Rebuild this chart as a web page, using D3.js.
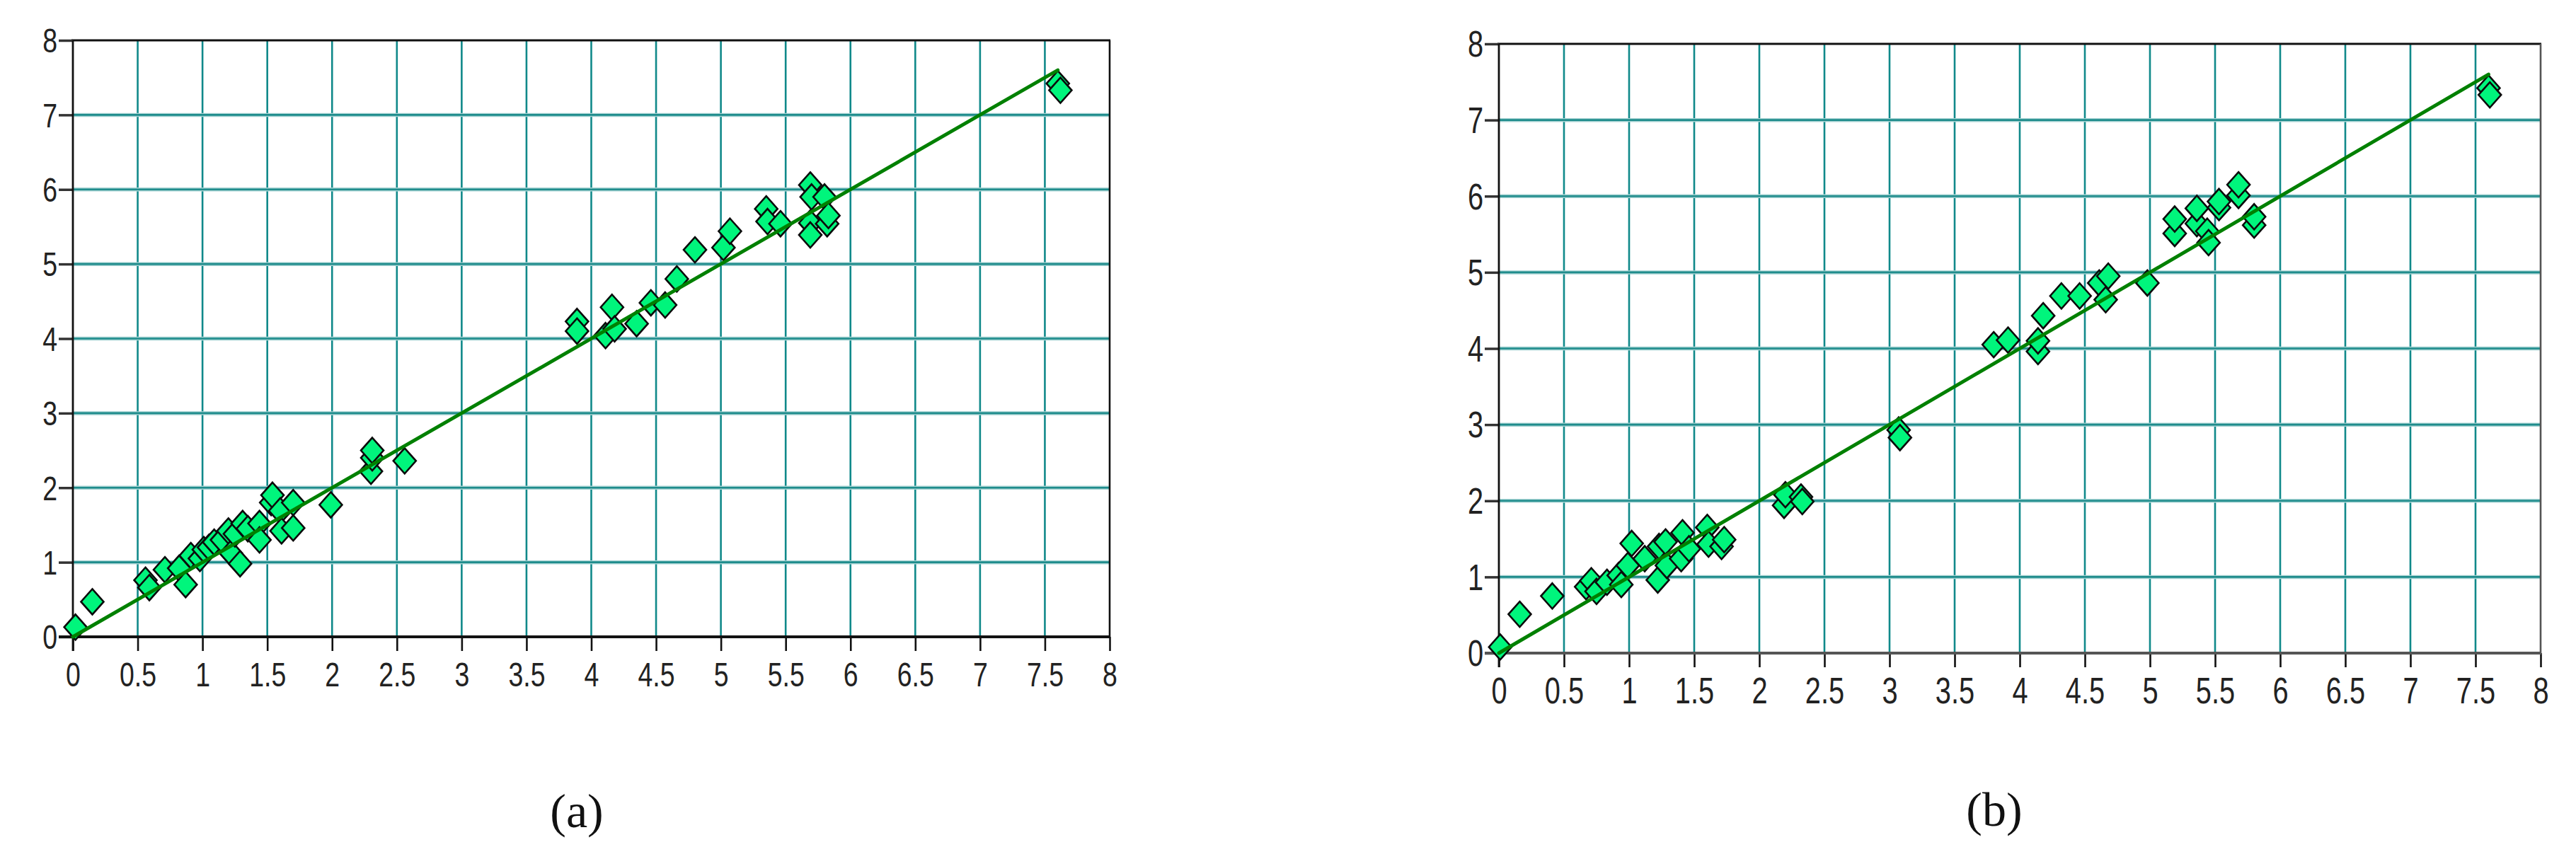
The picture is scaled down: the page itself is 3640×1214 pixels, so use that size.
<!DOCTYPE html>
<html>
<head>
<meta charset="utf-8">
<script src="https://cdn.jsdelivr.net/npm/d3@7"></script>
<style>
  html, body { margin: 0; padding: 0; background: #fff; }
  svg { display: block; }
  .tick text { font-family: "Liberation Sans", Arial, sans-serif; fill: #222; }
</style>
</head>
<body>
<div id="chart"></div>
<script>
const W = 3640, H = 1214;

// axis ticks
const xTicks = d3.range(0, 8.001, 0.5);
const yTicks = d3.range(0, 9, 1);

// panel (a): observed (x) vs predicted (y)
const obsA  = [0.02,0.15,0.56,0.59,0.71,0.82,0.87,0.91,0.98,1.01,1.05,1.09,1.15,1.20,1.22,1.25,1.29,1.31,1.35,1.44,1.44,1.53,1.54,1.60,1.61,1.70,1.70,1.99,2.30,2.31,2.31,2.56,
               3.89,3.89,4.11,4.16,4.18,4.35,4.46,4.57,4.66,4.80,5.02,5.07,5.35,5.36,5.46,5.69,5.70,5.69,5.69,5.80,5.82,5.83,7.60,7.62];
const predA = [0.13,0.47,0.76,0.66,0.90,0.92,0.70,1.09,1.05,1.17,1.20,1.27,1.30,1.42,1.12,1.38,0.98,1.52,1.45,1.52,1.30,1.80,1.90,1.69,1.42,1.80,1.46,1.77,2.22,2.40,2.50,2.36,
               4.23,4.10,4.04,4.42,4.13,4.20,4.48,4.45,4.80,5.19,5.22,5.44,5.74,5.57,5.54,6.06,5.90,5.55,5.39,5.90,5.54,5.65,7.42,7.33];

// panel (b)
const obsB  = [0.01,0.16,0.41,0.67,0.71,0.75,0.83,0.92,0.94,0.99,1.02,1.12,1.22,1.23,1.28,1.29,1.40,1.41,1.46,1.60,1.61,1.71,1.73,2.19,2.20,2.32,2.33,3.07,3.08,
               3.80,3.91,4.14,4.14,4.18,4.32,4.46,4.61,4.66,4.68,4.98,5.19,5.19,5.36,5.36,5.44,5.45,5.53,5.53,5.68,5.68,5.80,5.80,7.60,7.61];
const predB = [0.08,0.51,0.75,0.87,0.95,0.81,0.93,1.02,0.90,1.15,1.44,1.24,0.96,1.40,1.46,1.15,1.24,1.58,1.37,1.65,1.43,1.40,1.49,1.94,2.08,2.05,1.99,2.93,2.83,
               4.05,4.11,3.96,4.10,4.43,4.69,4.69,4.86,4.64,4.95,4.86,5.51,5.70,5.64,5.84,5.54,5.39,5.85,5.93,6.01,6.15,5.62,5.73,7.42,7.33];

// fitted line ends (y = x)
const fitA = [0, 7.6];
const fitB = [0, 7.6];

const svg = d3.select("#chart").append("svg")
  .attr("width", W).attr("height", H)
  .style("background", "#fff");

function drawPanel(opts) {
  const x = d3.scaleLinear().domain([0, 8]).range([opts.left, opts.right]);
  const y = d3.scaleLinear().domain([0, 8]).range([opts.bottom, opts.top]);
  const g = svg.append("g");
  const fs = opts.fontSize, sx = 0.78;

  // vertical grid
  g.selectAll(".vg").data(xTicks.slice(1, -1)).enter().append("line")
    .attr("x1", d => x(d)).attr("x2", d => x(d))
    .attr("y1", opts.top).attr("y2", opts.bottom)
    .style("stroke", "#10898a").style("stroke-width", 2.6);

  // horizontal grid: light halo + darker core
  const hg = yTicks.slice(1, -1);
  g.selectAll(".hgh").data(hg).enter().append("line")
    .attr("x1", opts.left).attr("x2", opts.right)
    .attr("y1", d => y(d)).attr("y2", d => y(d))
    .style("stroke", "#a3d1d1").style("stroke-width", 5.5);
  g.selectAll(".hgc").data(hg).enter().append("line")
    .attr("x1", opts.left).attr("x2", opts.right)
    .attr("y1", d => y(d)).attr("y2", d => y(d))
    .style("stroke", "#1f8c8c").style("stroke-width", 2.6);

  // frame
  g.append("line").attr("x1", opts.left - 2).attr("x2", opts.right + 1)
    .attr("y1", opts.top).attr("y2", opts.top)
    .style("stroke", "#111").style("stroke-width", 3.2);
  g.append("line").attr("x1", opts.right).attr("x2", opts.right)
    .attr("y1", opts.top).attr("y2", opts.bottom)
    .style("stroke", opts.axisColor).style("stroke-width", 2.6);

  // x axis
  const xa = g.append("g")
    .attr("transform", `translate(0,${opts.bottom})`)
    .call(d3.axisBottom(x).tickValues(xTicks).tickFormat(d3.format("~g")).tickSize(20).tickPadding(0));
  xa.select(".domain").remove();
  xa.selectAll(".tick line").style("stroke", "#111").style("stroke-width", 2.6);
  xa.selectAll(".tick text")
    .attr("y", opts.xLabelY).attr("dy", "0.35em")
    .attr("transform", `scale(${sx},1)`)
    .style("font-size", fs + "px");

  // y axis
  const ya = g.append("g")
    .attr("transform", `translate(${opts.left},0)`)
    .call(d3.axisLeft(y).tickValues(yTicks).tickSize(20).tickPadding(0));
  ya.select(".domain").remove();
  ya.selectAll(".tick line").style("stroke", "#333").style("stroke-width", 3.5);
  ya.selectAll(".tick text")
    .attr("x", -22 / sx).attr("dy", "0.35em")
    .attr("transform", `scale(${sx},1)`)
    .style("font-size", fs + "px");

  g.append("line").attr("x1", opts.left).attr("x2", opts.left)
    .attr("y1", opts.top).attr("y2", opts.bottom + 20)
    .style("stroke", "#111").style("stroke-width", 2.8);
  g.append("line").attr("x1", opts.left - 20).attr("x2", opts.right + 1)
    .attr("y1", opts.bottom).attr("y2", opts.bottom)
    .style("stroke", opts.axisColor).style("stroke-width", 4);

  // markers
  const diamond = "M0,-18L16,0L0,18L-16,0Z";
  g.selectAll(".pt").data(opts.xs.map((v, i) => [v, opts.ys[i]])).enter().append("path")
    .attr("d", diamond)
    .attr("transform", d => `translate(${x(d[0])},${y(d[1])})`)
    .style("fill", "#00f57c").style("stroke", "#0b0b0b").style("stroke-width", 2.6);

  // fitted line
  g.append("line")
    .attr("x1", x(opts.fit[0])).attr("y1", y(opts.fit[0]))
    .attr("x2", x(opts.fit[1])).attr("y2", y(opts.fit[1]))
    .style("stroke", "#008000").style("stroke-width", 5).style("stroke-linecap", "round");

  // panel caption
  svg.append("text")
    .attr("x", opts.capX).attr("y", opts.capY)
    .attr("text-anchor", "middle").attr("dy", "0.35em")
    .style("font-family", "'Liberation Serif', 'DejaVu Serif', serif")
    .style("font-size", "68px").style("fill", "#111")
    .text(opts.caption);
}

drawPanel({ left: 103, right: 1568, top: 57, bottom: 900, xs: obsA, ys: predA, fit: fitA,
  fontSize: 48, xLabelY: 53, axisColor: "#111", caption: "(a)", capX: 815, capY: 1145 });
drawPanel({ left: 2118, right: 3590, top: 62, bottom: 923, xs: obsB, ys: predB, fit: fitB,
  fontSize: 51, xLabelY: 53, axisColor: "#555", caption: "(b)", capX: 2818, capY: 1143 });
</script>
</body>
</html>
